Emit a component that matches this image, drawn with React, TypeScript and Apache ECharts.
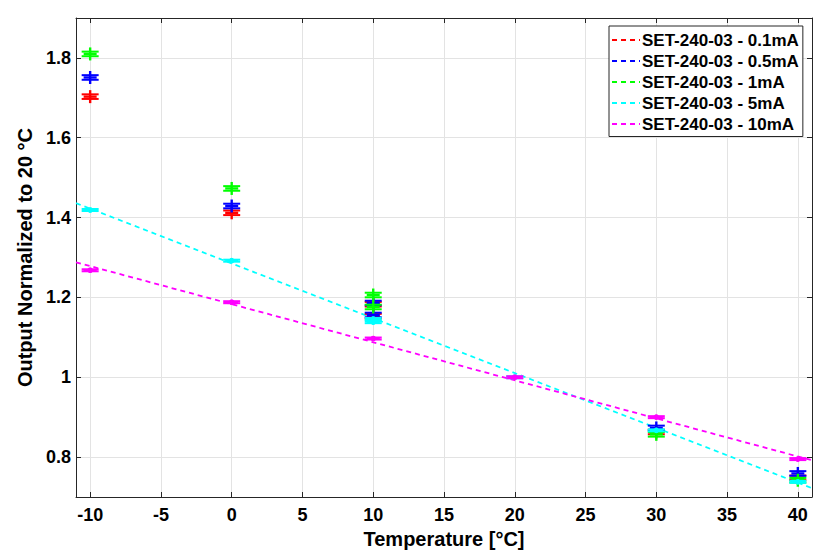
import React, { useEffect, useRef } from "react";
import * as echarts from "echarts";

// ---- data ----
const seriesNames = [
  "SET-240-03 - 0.1mA",
  "SET-240-03 - 0.5mA",
  "SET-240-03 - 1mA",
  "SET-240-03 - 5mA",
  "SET-240-03 - 10mA",
];
const seriesColors = ["#ff0000", "#0000ff", "#00ff00", "#00ffff", "#ff00ff"];

const ptsRed = [[-10, 1.703], [0, 1.412], [10, 1.183], [10, 1.153], [30, 0.863], [40, 0.748]];
const ptsBlue = [[-10, 1.751], [0, 1.429], [10, 1.186], [10, 1.156], [30, 0.873], [40, 0.759]];
const ptsGreen = [[-10, 1.81], [0, 1.473], [10, 1.206], [10, 1.176], [30, 0.857], [40, 0.742]];
const ptsCyan = [[-10, 1.419], [0, 1.292], [10, 1.146], [10, 1.138], [20, 1.0], [30, 0.867], [40, 0.738]];
const ptsMagenta = [[-10, 1.268], [0, 1.188], [10, 1.097], [20, 1.0], [30, 0.9], [40, 0.795]];

const fitX = [-11, 41];
const fitCyan = [1.436, 0.722];
const fitMagenta = [1.288, 0.792];

const xMin = -11;
const xMax = 41;
const yMin = 0.7;
const yMax = 1.9;

const FONT = "Liberation Sans, Arial, Helvetica, sans-serif";

export default function App() {
  const ref = useRef<HTMLDivElement>(null);

  useEffect(() => {
    if (!ref.current) return;
    const chart = echarts.init(ref.current, undefined, { renderer: "svg" });

    const allPts = [ptsRed, ptsBlue, ptsGreen, ptsCyan, ptsMagenta];
    const fits: (number[] | null)[] = [null, null, null, fitCyan, fitMagenta];

    const lineSeries = seriesNames.map((name, i) => ({
      name,
      type: "line",
      xAxisIndex: 0,
      yAxisIndex: 0,
      symbol: "none",
      showSymbol: false,
      silent: true,
      z: 2,
      lineStyle: { color: seriesColors[i], width: 1.8, type: [5, 4] },
      itemStyle: { color: seriesColors[i] },
      data: fits[i] ? fitX.map((x, k) => [x, (fits[i] as number[])[k]]) : [],
    }));

    const small = [false, false, false, true, true];
    const pointSeries = allPts.map((pts, i) => ({
      name: "pts" + i,
      type: "custom",
      xAxisIndex: 0,
      yAxisIndex: 0,
      z: 3 + i,
      silent: true,
      data: pts,
      renderItem: (params: any, api: any) => {
        const c = api.coord([api.value(0), api.value(1)]);
        const col = seriesColors[i];
        const vh = small[i] ? 2.5 : 6.5;
        const capOff = small[i] ? 1 : 2.3;
        const capW = 8.5;
        const children: any[] = [
          { type: "line", shape: { x1: c[0] - capW, y1: c[1] - capOff, x2: c[0] + capW, y2: c[1] - capOff }, style: { stroke: col, lineWidth: 2 } },
          { type: "line", shape: { x1: c[0] - capW, y1: c[1] + capOff, x2: c[0] + capW, y2: c[1] + capOff }, style: { stroke: col, lineWidth: 2 } },
          { type: "line", shape: { x1: c[0] - 6.5, y1: c[1], x2: c[0] + 6.5, y2: c[1] }, style: { stroke: col, lineWidth: 2.4 } },
          { type: "line", shape: { x1: c[0], y1: c[1] - vh, x2: c[0], y2: c[1] + vh }, style: { stroke: col, lineWidth: 2.4 } },
        ];
        if (small[i]) {
          children.push({ type: "circle", shape: { cx: c[0], cy: c[1], r: 2.8 }, style: { fill: col } });
        }
        return { type: "group", children };
      },
    }));

    const xLabelFmt = (v: number) => {
      const r = Math.round(v / 5) * 5;
      if (Math.abs(v - r) > 1e-6) return "";
      return String(r);
    };
    const yLabelFmt = (v: number) => {
      const r = Math.round(v / 0.2);
      if (Math.abs(v - r * 0.2) > 1e-6) return "";
      return String(parseFloat((r * 0.2).toFixed(1)));
    };

    const axisLineStyle = { color: "#262626", width: 1 };
    const gridLine = { show: true, lineStyle: { color: "#e3e3e3", width: 1 } };
    const labelStyle = { fontFamily: FONT, fontSize: 18, fontWeight: "bold", color: "#000" };
    const nameStyle = { fontFamily: FONT, fontSize: 20, fontWeight: "bold", color: "#000" };

    chart.setOption({
      animation: false,
      backgroundColor: "#ffffff",
      grid: { left: 76, right: 18, top: 18, bottom: 61, containLabel: false },
      legend: {
        show: true,
        data: seriesNames,
        orient: "vertical",
        left: 609,
        top: 26,
        itemWidth: 28,
        itemHeight: 14,
        itemGap: 4,
        padding: [5.5, 4, 4, 2],
        backgroundColor: "#ffffff",
        borderColor: "#262626",
        borderWidth: 1,
        borderRadius: 0,
        selectedMode: false,
        itemStyle: { opacity: 0 },
        textStyle: { fontFamily: FONT, fontSize: 17, fontWeight: "bold", color: "#000000", padding: [0, 0, 0, -3] },
      },
      xAxis: [
        {
          type: "value",
          min: xMin,
          max: xMax,
          splitNumber: 10,
          position: "bottom",
          name: "Temperature [°C]",
          nameLocation: "middle",
          nameGap: 29,
          nameTextStyle: nameStyle,
          axisLine: { show: true, onZero: false, lineStyle: axisLineStyle },
          axisTick: { show: true, inside: true, length: 5, lineStyle: axisLineStyle },
          axisLabel: { show: true, formatter: xLabelFmt, ...labelStyle, margin: 9 },
          splitLine: gridLine,
        },
        {
          type: "value",
          min: xMin,
          max: xMax,
          splitNumber: 10,
          position: "top",
          axisLine: { show: true, onZero: false, lineStyle: axisLineStyle },
          axisTick: { show: true, inside: true, length: 5, lineStyle: axisLineStyle },
          axisLabel: { show: false },
          splitLine: { show: false },
        },
      ],
      yAxis: [
        {
          type: "value",
          min: yMin,
          max: yMax,
          splitNumber: 5,
          position: "left",
          name: "Output Normalized to 20 °C",
          nameLocation: "middle",
          nameGap: 32,
          nameTextStyle: nameStyle,
          axisLine: { show: true, onZero: false, lineStyle: axisLineStyle },
          axisTick: { show: true, inside: true, length: 5, lineStyle: axisLineStyle },
          axisLabel: { show: true, formatter: yLabelFmt, ...labelStyle, margin: 5 },
          splitLine: gridLine,
        },
        {
          type: "value",
          min: yMin,
          max: yMax,
          splitNumber: 5,
          position: "right",
          axisLine: { show: true, onZero: false, lineStyle: axisLineStyle },
          axisTick: { show: true, inside: true, length: 5, lineStyle: axisLineStyle },
          axisLabel: { show: false },
          splitLine: { show: false },
        },
      ],
      series: [...lineSeries, ...pointSeries],
    });

    return () => chart.dispose();
  }, []);

  return <div ref={ref} style={{ width: 830, height: 558, margin: -8 }} />;
}
